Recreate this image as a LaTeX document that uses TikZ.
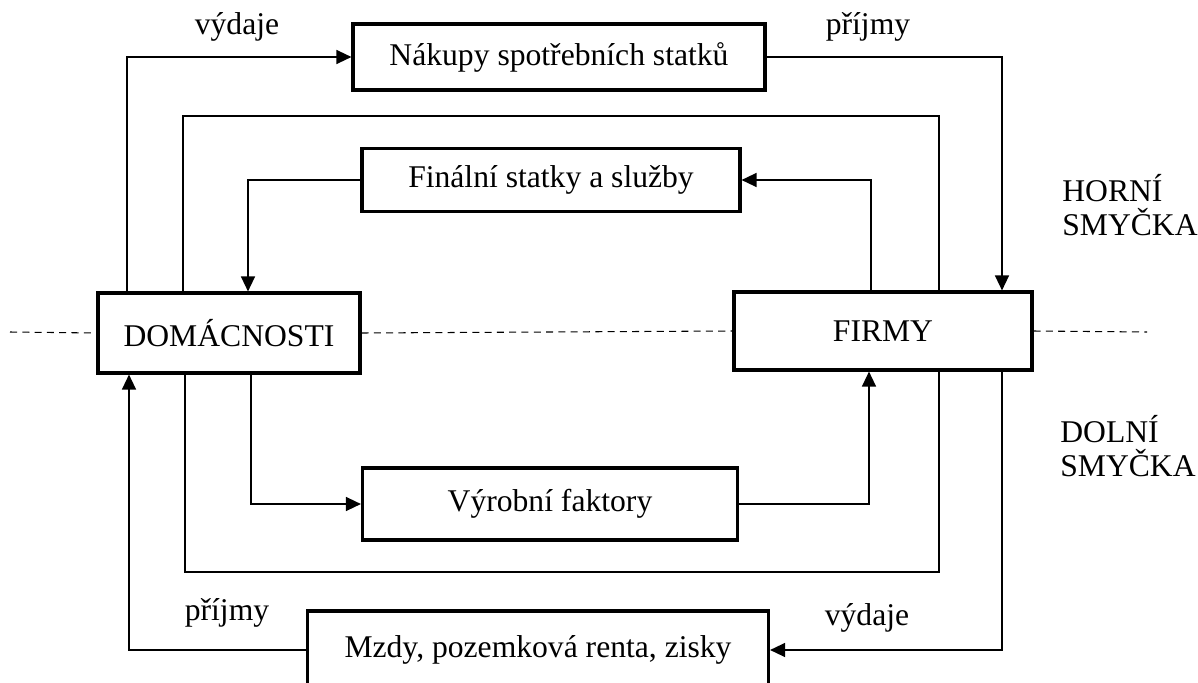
\documentclass[tikz,border=0pt]{standalone}
\usepackage{fontspec}
\setmainfont{Liberation Serif}
\usetikzlibrary{arrows.meta}

\tikzset{every node/.style={font=\fontsize{18}{19}\selectfont}}
\tikzset{box/.style={draw,line width=1.8pt,inner sep=0pt}}
\tikzset{flow/.style={line width=0.8pt,-{Triangle[length=0.3cm,width=0.28cm]}}}
\tikzset{loop/.style={line width=0.8pt}}
\tikzset{midline/.style={line width=0.6pt,dash pattern=on 4pt off 3pt}}

\begin{document}
\begin{tikzpicture}[x=0.02cm,y=-0.02cm]
    \useasboundingbox (0,0) rectangle (1198,683);

    \node [box,minimum width=262*0.02cm,minimum height=80*0.02cm] (dom) at (229,333) {DOMÁCNOSTI};
    \node [box,minimum width=298*0.02cm,minimum height=78*0.02cm] (firmy) at (883,331) {FIRMY};
    \node [box,minimum width=412*0.02cm,minimum height=66*0.02cm] (nakupy) at (559,57) {Nákupy spotřebních statků};
    \node [box,minimum width=378*0.02cm,minimum height=63*0.02cm] (finalni) at (551,180) {Finální statky a služby};
    \node [box,minimum width=375*0.02cm,minimum height=72*0.02cm] (vyrobni) at (550,504) {Výrobní faktory};
    \node [box,minimum width=461*0.02cm,minimum height=78*0.02cm] (mzdy) at (538,650) {Mzdy, pozemková renta, zisky};

    % horni smycka
    \draw [flow] (dom.north -| 127,0) |- (nakupy.west);
    \draw [flow] (nakupy.east) -| (firmy.north -| 1002,0);
    \draw [flow] (firmy.north -| 871,0) |- (finalni.east);
    \draw [flow] (finalni.west) -| (dom.north -| 248,0);
    \draw [loop] (dom.north -| 183,0) |- (939,116) -- (firmy.north -| 939,0);

    % dolni smycka
    \draw [flow] (dom.south -| 251,0) |- (vyrobni.west);
    \draw [flow] (vyrobni.east) -| (firmy.south -| 869,0);
    \draw [flow] (firmy.south -| 1002,0) |- (mzdy.east);
    \draw [flow] (mzdy.west) -| (dom.south -| 129,0);
    \draw [loop] (dom.south -| 185,0) |- (939,572) -- (firmy.south -| 939,0);

    % deleni
    \draw [midline] (10,332) -- (dom.west);
    \draw [midline] (dom.east) -- (firmy.west);
    \draw [midline] (firmy.east) -- (1147,332);

    \node [anchor=base] (vydaje1) at (237,34) {výdaje};
    \node [anchor=base] (prijmy1) at (868,34) {příjmy};
    \node [anchor=base] (prijmy2) at (227,620) {příjmy};
    \node [anchor=base] (vydaje2) at (867,625) {výdaje};
    \node [anchor=west,align=left,inner sep=0pt] (horni) at (1062,205) {HORNÍ\\SMYČKA};
    \node [anchor=west,align=left,inner sep=0pt] (dolni) at (1060,446) {DOLNÍ\\SMYČKA};
\end{tikzpicture}
\end{document}
